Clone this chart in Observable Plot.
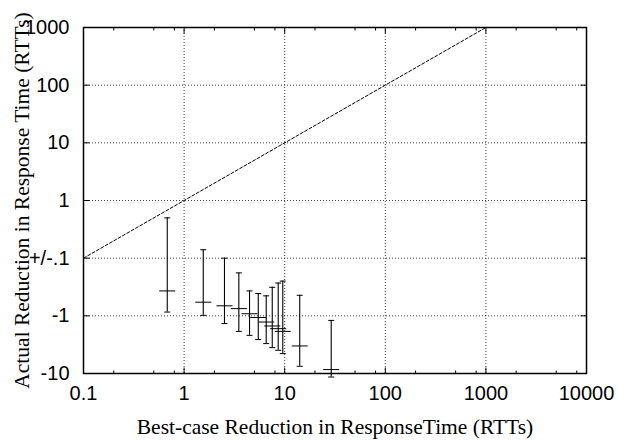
<!DOCTYPE html>
<html><head><meta charset="utf-8">
<script src="https://cdn.jsdelivr.net/npm/d3@7"></script>
<script src="https://cdn.jsdelivr.net/npm/@observablehq/plot@0.6"></script>
<style>body{margin:0;background:#fff}</style>
</head><body><div id="chart"></div>
<script>
// Data
const bestCase   = [0.68, 1.55, 2.52, 3.50, 4.47, 5.46, 6.55, 7.52, 8.62, 9.57, 14.1, 29.0];
const actualMean = [-0.37, -0.58, -0.67, -0.75, -0.92, -1.07, -1.28, -1.50, -1.67, -1.86, -3.33, -8.55];
const actualHigh = [0.50, 0.14, 0.10, -0.18, -0.37, -0.41, -0.45, -0.32, -0.27, -0.25, -0.44, -1.20];
const actualLow  = [-0.86, -0.98, -1.36, -1.86, -2.18, -2.58, -3.03, -3.56, -3.96, -4.52, -7.5, -11.5];
const idealX = [0.1, 1000];
const idealY = [0.1, 1000];
const xTicks = [0.1, 1, 10, 100, 1000, 10000];
const xTickLabels = ["0.1", "1", "10", "100", "1000", "10000"];
const xMinorMultipliers = [2, 5, 8];
const yTicks = [-10, -1, 0.1, 1, 10, 100, 1000];
const yTickLabels = ["-10", "-1", "+/-.1", "1", "10", "100", "1000"];
const xTitle = "Best-case Reduction in ResponseTime (RTTs)";
const yTitle = "Actual Reduction in Response Time (RTTs)";

// signed-log transform: positive values log10, negative mirrored below +/-.1
const tr = v => v >= 0.1 ? Math.log10(v) : v <= -0.1 ? -2 - Math.log10(-v) : -1;

const data = bestCase.map((x, i) => ({x, mean: actualMean[i], hi: actualHigh[i], lo: actualLow[i]}));
const ideal = idealX.map((x, i) => ({x, y: idealY[i]}));
const xMinor = xTicks.slice(0, -1).flatMap(d => xMinorMultipliers.map(m => m * d));
const yT = yTicks.map(tr);
const yTop = yT[yT.length - 1], yBot = yT[0];

const hline = w => ({draw(ctx) { ctx.moveTo(-w, 0); ctx.lineTo(w, 0); }});
const vline = (a, b) => ({draw(ctx) { ctx.moveTo(0, a); ctx.lineTo(0, b); }});
const hseg = (a, b) => ({draw(ctx) { ctx.moveTo(a, 0); ctx.lineTo(b, 0); }});

const gridStyle = {stroke: "#000", strokeOpacity: 0.75, strokeDasharray: "1,2", strokeWidth: 1};
const ink = {stroke: "black", fill: "none", strokeWidth: 1};
const serif = "'Liberation Serif', 'Times New Roman', serif";

const chart = Plot.plot({
  width: 618, height: 440,
  marginLeft: 83, marginRight: 32, marginTop: 27, marginBottom: 67,
  x: {type: "log", domain: [xTicks[0], xTicks[xTicks.length - 1]]},
  y: {type: "linear", domain: [yBot, yTop]},
  style: {fontFamily: "'Liberation Sans', Arial, sans-serif", fontSize: "20px", background: "white", color: "black", overflow: "visible"},
  marks: [
    Plot.ruleX(xTicks.slice(1, -1), {x: d => d, ...gridStyle}),
    Plot.ruleY(yT.slice(1, -1), {y: d => d, ...gridStyle}),
    // major and minor ticks (inward)
    Plot.dot(xTicks, {x: d => d, y: () => yBot, symbol: vline(0, -6), ...ink}),
    Plot.dot(xTicks, {x: d => d, y: () => yTop, symbol: vline(0, 6), ...ink}),
    Plot.dot(xMinor, {x: d => d, y: () => yBot, symbol: vline(0, -3), ...ink}),
    Plot.dot(xMinor, {x: d => d, y: () => yTop, symbol: vline(0, 3), ...ink}),
    Plot.dot(yT, {x: () => xTicks[0], y: d => d, symbol: hseg(0, 6), ...ink}),
    Plot.dot(yT, {x: () => xTicks[xTicks.length - 1], y: d => d, symbol: hseg(0, -6), ...ink}),
    // ideal y = x line
    Plot.line(ideal, {x: "x", y: d => tr(d.y), stroke: "black", strokeWidth: 1, strokeDasharray: "3,2"}),
    // error bars
    Plot.ruleX(data, {x: "x", y1: d => tr(d.lo), y2: d => tr(d.hi), stroke: "black", strokeWidth: 1.1}),
    Plot.dot(data, {x: "x", y: d => tr(d.hi), symbol: hline(3), ...ink}),
    Plot.dot(data, {x: "x", y: d => tr(d.lo), symbol: hline(3), ...ink}),
    Plot.dot(data, {x: "x", y: d => tr(d.mean), symbol: hline(8), ...ink}),
    Plot.frame({stroke: "black", strokeWidth: 1.5}),
    Plot.axisX(xTicks, {tickSize: 0, tickPadding: 12, label: null, tickFormat: d => xTickLabels[xTicks.indexOf(d)]}),
    Plot.axisY(yT, {tickSize: 0, tickPadding: 14, label: null, tickFormat: d => yTickLabels[yT.indexOf(d)]}),
    Plot.text([xTitle], {text: d => d, frameAnchor: "bottom", dy: 60, lineAnchor: "bottom", textAnchor: "middle", fontFamily: serif, fontSize: 21.5, fill: "black"}),
    Plot.text([yTitle], {text: d => d, frameAnchor: "left", dx: -61, rotate: -90, lineAnchor: "middle", textAnchor: "middle", fontFamily: serif, fontSize: 21.5, fill: "black"})
  ]
});
document.getElementById("chart").appendChild(chart);
</script>
</body></html>
